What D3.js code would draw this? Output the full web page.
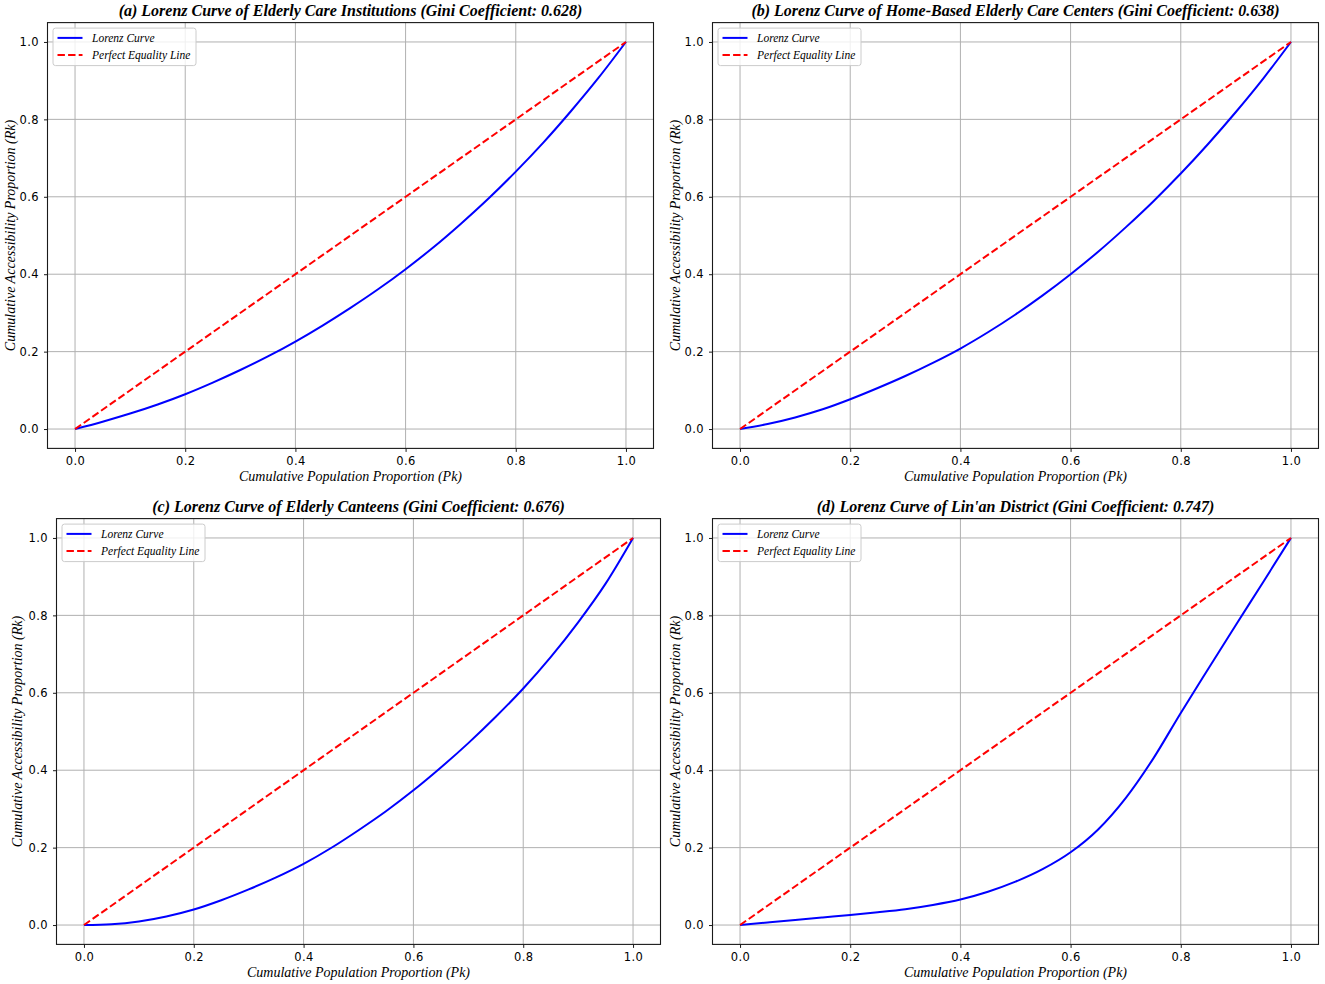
<!DOCTYPE html>
<html>
<head>
<meta charset="utf-8">
<script src="https://cdn.jsdelivr.net/npm/d3@7"></script>
<style>
  body { margin: 0; background: #fff; }
  svg text { fill: #000; }
</style>
</head>
<body>
<div id="chart"></div>
<script>
// Cumulative population proportion (shared x values)
var pk = [0, 0.05, 0.1, 0.15, 0.2, 0.25, 0.3, 0.35, 0.4, 0.45, 0.5,
          0.55, 0.6, 0.65, 0.7, 0.75, 0.8, 0.85, 0.9, 0.95, 1.0];

// Cumulative accessibility proportion, one list per panel
var rkInstitutions = [0, 0.019, 0.040, 0.0635, 0.090, 0.120, 0.1525, 0.1875, 0.226, 0.268, 0.313,
                      0.361, 0.413, 0.469, 0.530, 0.595, 0.665, 0.740, 0.821, 0.907, 1.0];
var rkHomeCenters  = [0, 0.013, 0.030, 0.051, 0.077, 0.106, 0.137, 0.171, 0.208, 0.250, 0.296,
                      0.346, 0.400, 0.458, 0.521, 0.588, 0.660, 0.737, 0.819, 0.906, 1.0];
var rkCanteens     = [0, 0.002, 0.009, 0.022, 0.040, 0.064, 0.092, 0.123, 0.158, 0.199, 0.245,
                      0.294, 0.348, 0.407, 0.470, 0.538, 0.611, 0.692, 0.782, 0.882, 1.0];
var rkLinan        = [0, 0.0065, 0.013, 0.0195, 0.026, 0.033, 0.041, 0.052, 0.066, 0.086, 0.112,
                      0.145, 0.188, 0.247, 0.328, 0.430, 0.548, 0.662, 0.775, 0.887, 1.0];

var panelTitles = [
    "(a) Lorenz Curve of Elderly Care Institutions (Gini Coefficient: 0.628)",
    "(b) Lorenz Curve of Home-Based Elderly Care Centers (Gini Coefficient: 0.638)",
    "(c) Lorenz Curve of Elderly Canteens (Gini Coefficient: 0.676)",
    "(d) Lorenz Curve of Lin'an District (Gini Coefficient: 0.747)"
];
var panelSeries = [rkInstitutions, rkHomeCenters, rkCanteens, rkLinan];
var equality    = [[0, 0], [1, 1]];
var tickValues  = [0, 0.2, 0.4, 0.6, 0.8, 1.0];
var legendLabels = ["Lorenz Curve", "Perfect Equality Line"];

var xLabel = "Cumulative Population Proportion (Pk)";
var yLabel = "Cumulative Accessibility Proportion (Rk)";

// Axes boxes (left, top, width, height) and y-label position
var boxes = [
    {x: 47.5,  y: 22.6,  w: 606, h: 425.8, ylab: 10},
    {x: 712.5, y: 22.6,  w: 606, h: 425.8, ylab: 675},
    {x: 56.5,  y: 518.6, w: 604, h: 425.8, ylab: 17},
    {x: 712.5, y: 518.6, w: 606, h: 425.8, ylab: 675}
];

var W = 1325, H = 984;
var serif = "'Liberation Serif', 'Times New Roman', serif";
var sans  = "'DejaVu Sans', sans-serif";

var svg = d3.select('#chart').append('svg')
    .attr('width', W)
    .attr('height', H);

boxes.forEach(function(b, i)
{
    var x = d3.scaleLinear().domain([-0.05, 1.05]).range([0, b.w]);
    var y = d3.scaleLinear().domain([-0.05, 1.05]).range([b.h, 0]);

    var g = svg.append('g').attr('transform', 'translate(' + b.x + ',' + b.y + ')');

    // Grid
    g.append('g').selectAll('line').data(tickValues).enter().append('line')
        .attr('x1', function(d){ return x(d); })
        .attr('x2', function(d){ return x(d); })
        .attr('y1', 0).attr('y2', b.h)
        .attr('stroke', '#b0b0b0').attr('stroke-width', 1);
    g.append('g').selectAll('line').data(tickValues).enter().append('line')
        .attr('y1', function(d){ return y(d); })
        .attr('y2', function(d){ return y(d); })
        .attr('x1', 0).attr('x2', b.w)
        .attr('stroke', '#b0b0b0').attr('stroke-width', 1);

    // Axes
    var xAxis = g.append('g').attr('transform', 'translate(0,' + b.h + ')')
        .call(d3.axisBottom(x).tickValues(tickValues).tickFormat(d3.format('.1f')).tickSize(3.5).tickPadding(5));
    var yAxis = g.append('g')
        .call(d3.axisLeft(y).tickValues(tickValues).tickFormat(d3.format('.1f')).tickSize(3.5).tickPadding(5));
    [xAxis, yAxis].forEach(function(ax){
        ax.select('.domain').remove();
        ax.selectAll('line').attr('stroke', '#000').attr('stroke-width', 0.9);
        ax.selectAll('text')
          .style('font-family', sans)
          .style('font-size', '11.5px')
          .style('letter-spacing', '0.4px');
    });

    // Curves
    var line = d3.line()
        .x(function(d){ return x(d[0]); })
        .y(function(d){ return y(d[1]); })
        .curve(d3.curveMonotoneX);
    var pts = pk.map(function(p, k){ return [p, panelSeries[i][k]]; });
    g.append('path').datum(pts)
        .attr('d', line)
        .attr('fill', 'none')
        .attr('stroke', '#0000ff')
        .attr('stroke-width', 2);
    g.append('path').datum(equality)
        .attr('d', d3.line().x(function(d){ return x(d[0]); }).y(function(d){ return y(d[1]); }))
        .attr('fill', 'none')
        .attr('stroke', '#ff0000')
        .attr('stroke-width', 2)
        .attr('stroke-dasharray', '7.4,3.2');

    // Frame
    g.append('rect')
        .attr('width', b.w).attr('height', b.h)
        .attr('fill', 'none').attr('stroke', '#1a1a1a').attr('stroke-width', 1.1);

    // Legend
    var lg = g.append('g').attr('transform', 'translate(5.5,5.5)');
    lg.append('rect')
        .attr('width', 143).attr('height', 37.5).attr('rx', 2.5)
        .attr('fill', '#fff').attr('fill-opacity', 0.8)
        .attr('stroke', '#cccccc').attr('stroke-width', 1);
    legendLabels.forEach(function(lab, k){
        var ly = 9.8 + k * 17.2;
        lg.append('line')
            .attr('x1', 4.5).attr('x2', 29.5).attr('y1', ly).attr('y2', ly)
            .attr('stroke', k == 0 ? '#0000ff' : '#ff0000')
            .attr('stroke-width', 2)
            .attr('stroke-dasharray', k == 0 ? null : '7.4,3.2');
        lg.append('text')
            .attr('x', 39).attr('y', ly + 4)
            .style('font-family', serif).style('font-style', 'italic').style('font-size', '11.5px')
            .text(lab);
    });

    // Title
    g.append('text')
        .attr('x', b.w / 2).attr('y', -7)
        .attr('text-anchor', 'middle')
        .style('font-family', serif).style('font-style', 'italic').style('font-weight', 'bold')
        .style('font-size', '16px')
        .text(panelTitles[i]);

    // Axis labels
    g.append('text')
        .attr('x', b.w / 2).attr('y', b.h + 32.5)
        .attr('text-anchor', 'middle')
        .style('font-family', serif).style('font-style', 'italic').style('font-size', '14px')
        .text(xLabel);
    svg.append('text')
        .attr('transform', 'translate(' + (b.ylab + 5) + ',' + (b.y + b.h / 2) + ') rotate(-90)')
        .attr('text-anchor', 'middle')
        .style('font-family', serif).style('font-style', 'italic').style('font-size', '14px')
        .text(yLabel);
});
</script>
</body>
</html>
